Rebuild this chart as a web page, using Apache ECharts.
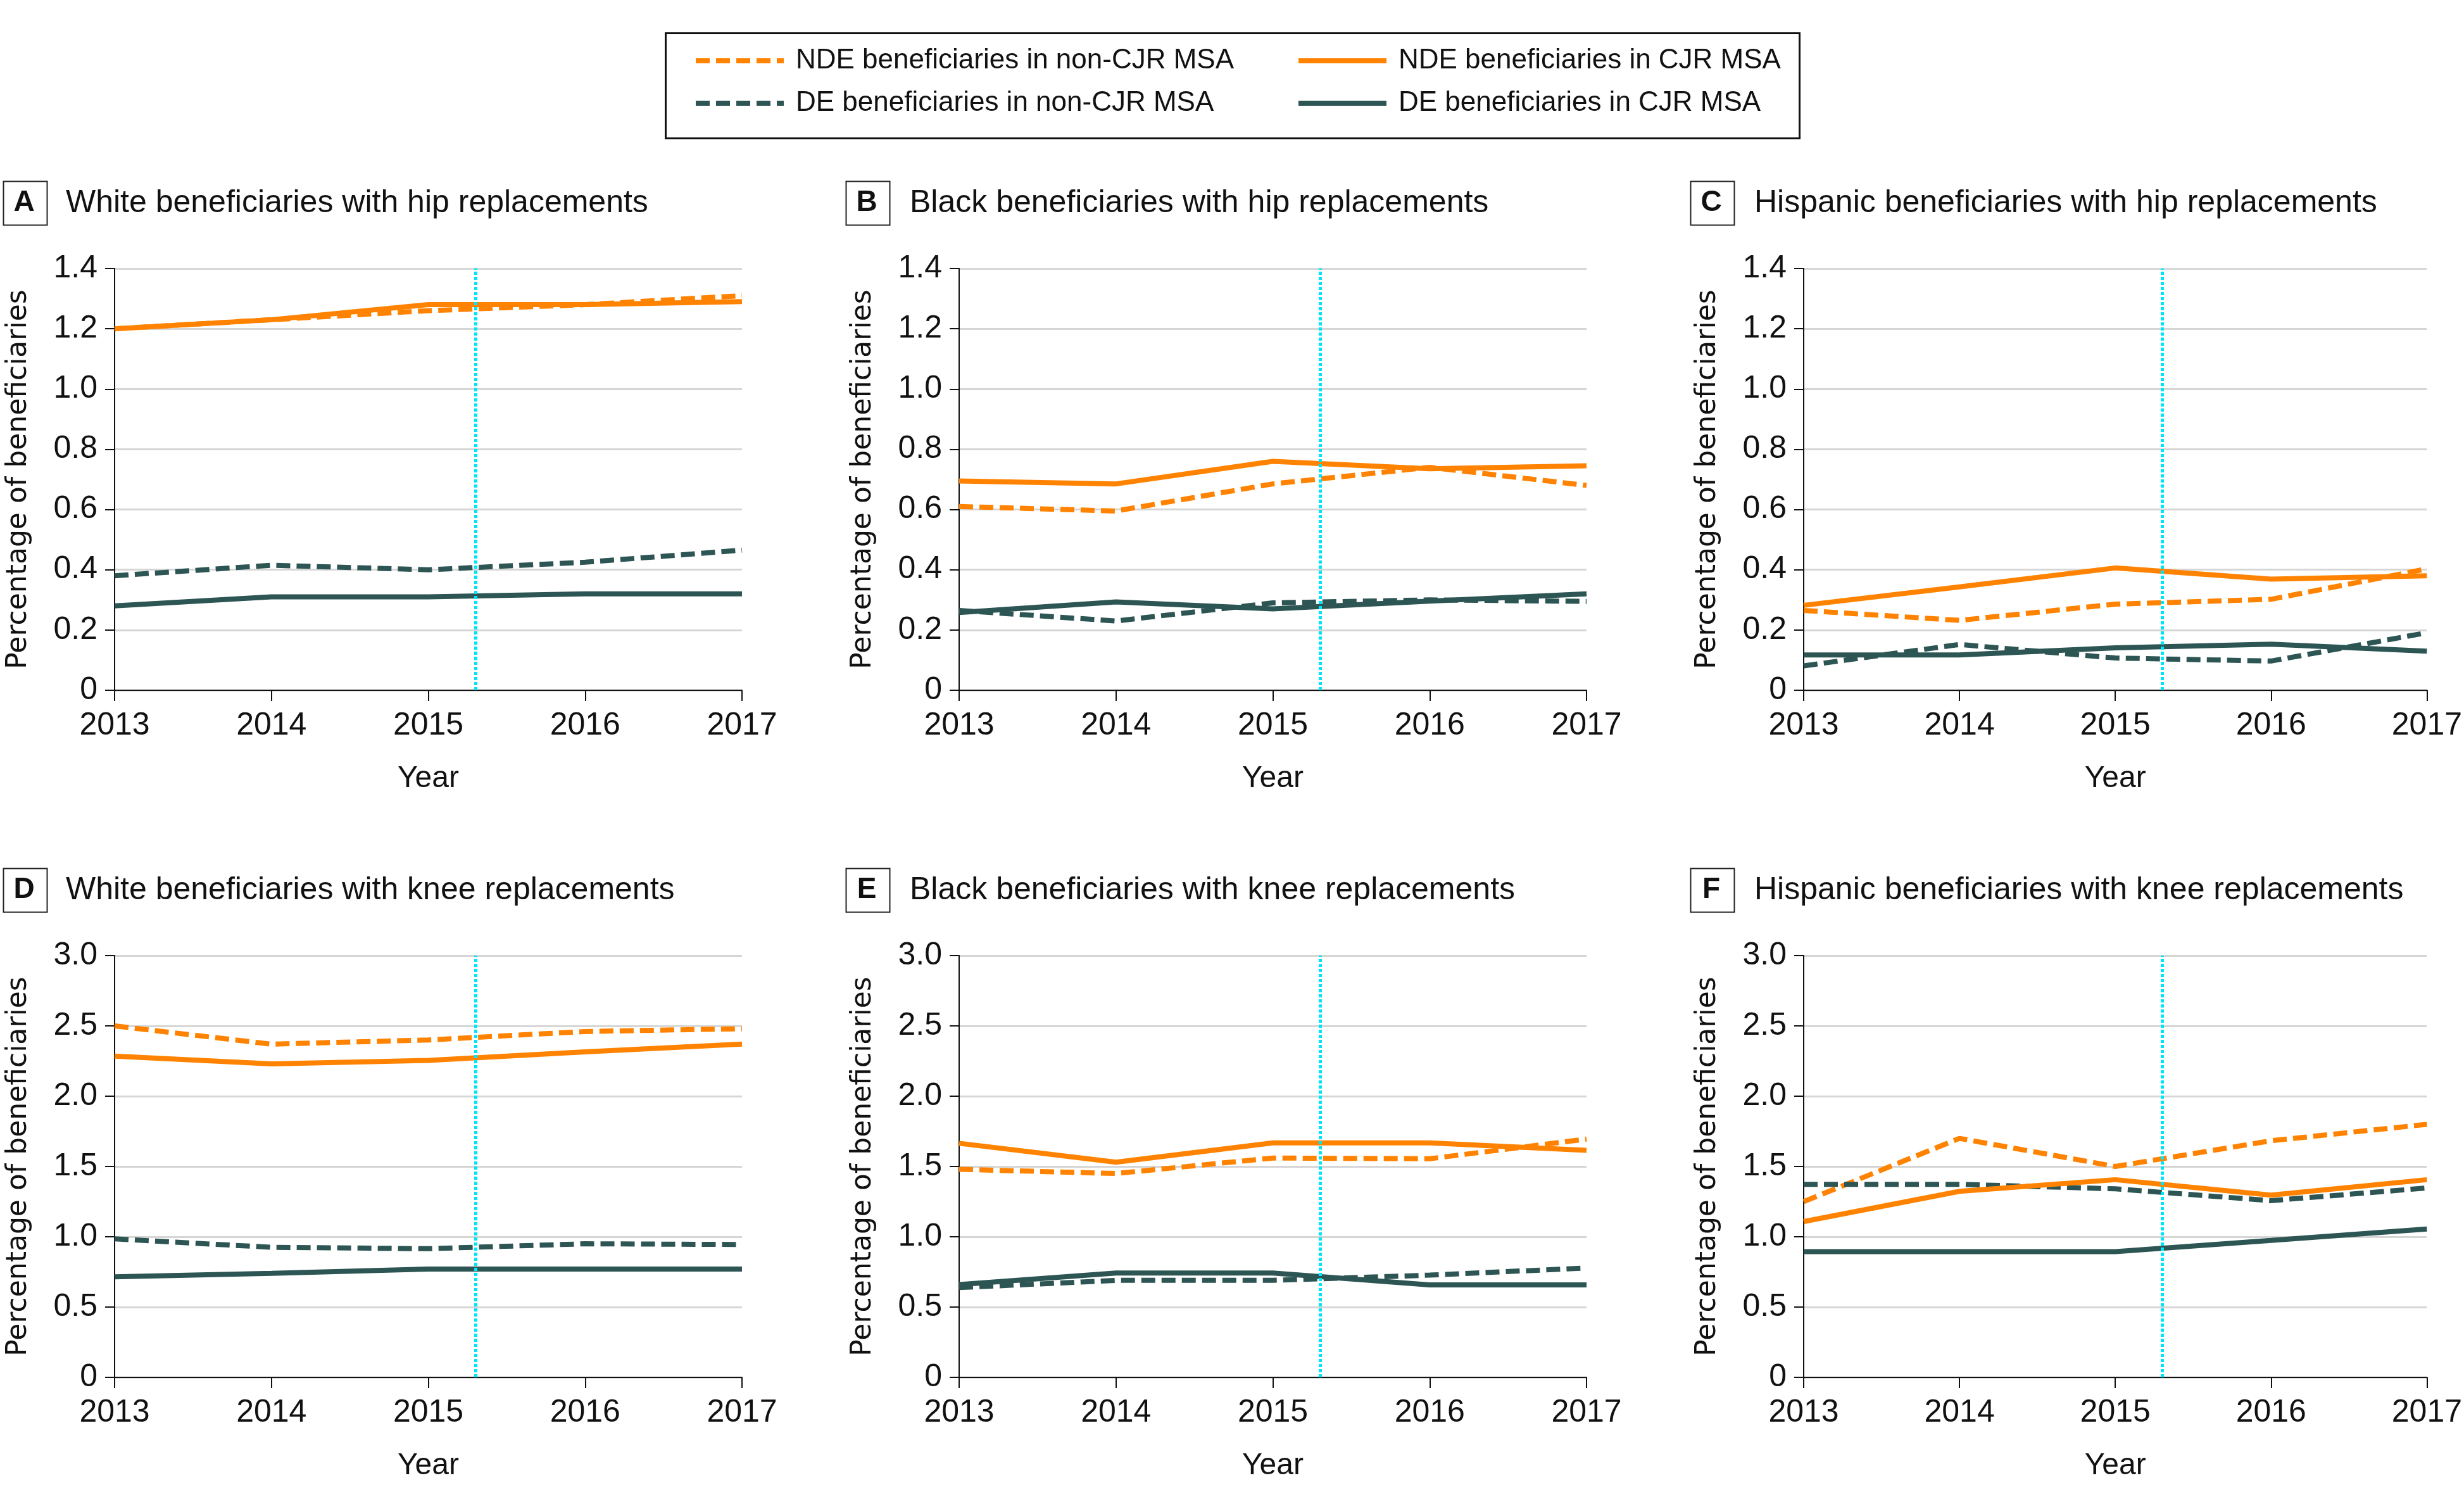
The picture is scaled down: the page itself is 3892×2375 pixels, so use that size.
<!DOCTYPE html>
<html>
<head>
<meta charset="utf-8">
<script src="https://cdn.jsdelivr.net/npm/echarts@6/dist/echarts.min.js"></script>
<style>
html,body{margin:0;padding:0;background:#fff;}
#chart{width:3892px;height:2375px;}
</style>
</head>
<body>
<div id="chart"></div>
<script>
// ---------------- DATA ----------------
const years = [2013, 2014, 2015, 2016, 2017];
const seriesNames = [
  'NDE beneficiaries in non-CJR MSA',
  'NDE beneficiaries in CJR MSA',
  'DE beneficiaries in non-CJR MSA',
  'DE beneficiaries in CJR MSA'
];
const panelLetters = ['A', 'B', 'C', 'D', 'E', 'F'];
const panelTitles = [
  'White beneficiaries with hip replacements',
  'Black beneficiaries with hip replacements',
  'Hispanic beneficiaries with hip replacements',
  'White beneficiaries with knee replacements',
  'Black beneficiaries with knee replacements',
  'Hispanic beneficiaries with knee replacements'
];
const xTickLabels = ['2013', '2014', '2015', '2016', '2017'];
const hipYTicks = ['0', '0.2', '0.4', '0.6', '0.8', '1.0', '1.2', '1.4'];
const kneeYTicks = ['0', '0.5', '1.0', '1.5', '2.0', '2.5', '3.0'];
const cjrStartYear = 2015.3;

// A: White, hip
const aNdeNon = [1.20, 1.23, 1.26, 1.28, 1.31];
const aNdeCjr = [1.20, 1.23, 1.28, 1.28, 1.29];
const aDeNon  = [0.38, 0.415, 0.40, 0.425, 0.465];
const aDeCjr  = [0.28, 0.31, 0.31, 0.32, 0.32];
// B: Black, hip
const bNdeNon = [0.61, 0.595, 0.685, 0.74, 0.68];
const bNdeCjr = [0.695, 0.685, 0.76, 0.735, 0.745];
const bDeNon  = [0.265, 0.23, 0.29, 0.30, 0.295];
const bDeCjr  = [0.258, 0.293, 0.27, 0.296, 0.32];
// C: Hispanic, hip
const cNdeNon = [0.265, 0.232, 0.286, 0.302, 0.403];
const cNdeCjr = [0.282, 0.343, 0.406, 0.369, 0.38];
const cDeNon  = [0.081, 0.152, 0.107, 0.097, 0.191];
const cDeCjr  = [0.117, 0.117, 0.141, 0.153, 0.13];
// D: White, knee
const dNdeNon = [2.50, 2.37, 2.40, 2.46, 2.48];
const dNdeCjr = [2.285, 2.23, 2.255, 2.315, 2.37];
const dDeNon  = [0.985, 0.925, 0.915, 0.95, 0.945];
const dDeCjr  = [0.715, 0.74, 0.77, 0.77, 0.77];
// E: Black, knee
const eNdeNon = [1.48, 1.45, 1.56, 1.555, 1.695];
const eNdeCjr = [1.665, 1.53, 1.668, 1.668, 1.615];
const eDeNon  = [0.638, 0.69, 0.69, 0.727, 0.778];
const eDeCjr  = [0.66, 0.742, 0.742, 0.658, 0.658];
// F: Hispanic, knee
const fNdeNon = [1.25, 1.70, 1.50, 1.683, 1.80];
const fNdeCjr = [1.108, 1.323, 1.406, 1.296, 1.406];
const fDeNon  = [1.373, 1.373, 1.341, 1.257, 1.347];
const fDeCjr  = [0.894, 0.894, 0.894, 0.974, 1.055];

const panelData = [
  [aNdeNon, aNdeCjr, aDeNon, aDeCjr],
  [bNdeNon, bNdeCjr, bDeNon, bDeCjr],
  [cNdeNon, cNdeCjr, cDeNon, cDeCjr],
  [dNdeNon, dNdeCjr, dDeNon, dDeCjr],
  [eNdeNon, eNdeCjr, eDeNon, eDeCjr],
  [fNdeNon, fNdeCjr, fDeNon, fDeCjr]
];

// ---------------- STYLE / LAYOUT ----------------
const ORANGE = '#FF8300';
const TEAL = '#2C5553';
const CYAN = '#00E5FA';
const GRID_COLOR = '#D6D6D6';
const SANS = '"Liberation Sans", Arial, sans-serif';
const LABEL_FONT = '"DejaVu Sans", sans-serif';
const seriesColors = [ORANGE, ORANGE, TEAL, TEAL];
const seriesDashed = [true, false, true, false];
const DASH = [22, 10];
const LINE_W = 8;

const colLefts = [181, 1515, 2849];
const rowTops = [424, 1509];
const gridW = 991, gridH = 666;
const boxLefts = [3, 1334, 2668];
const boxTops = [284, 1369];
const titleLefts = [104, 1437, 2771];
const titleMids = [321, 1406];

const chart = echarts.init(document.getElementById('chart'), null, {renderer: 'canvas'});

const grids = [], xAxes = [], yAxes = [], series = [], graphics = [];

for (let p = 0; p < 6; p++) {
  const col = p % 3, row = Math.floor(p / 3);
  const isHip = row === 0;
  const yTicks = isHip ? hipYTicks : kneeYTicks;
  grids.push({left: colLefts[col], top: rowTops[row], width: gridW, height: gridH});
  xAxes.push({
    type: 'value', gridIndex: p, min: 2013, max: 2017, interval: 1,
    name: 'Year', nameLocation: 'middle', nameGap: 116,
    nameTextStyle: {fontFamily: SANS, fontSize: 48, color: '#111'},
    axisLine: {show: true, lineStyle: {color: '#111', width: 2}},
    axisTick: {show: true, length: 17, lineStyle: {color: '#111', width: 2}},
    axisLabel: {fontFamily: SANS, fontSize: 50, color: '#111', margin: 31,
      formatter: v => xTickLabels[years.indexOf(Math.round(v))] || ''},
    splitLine: {show: false}
  });
  yAxes.push({
    type: 'value', gridIndex: p, min: 0,
    max: isHip ? 1.4 : 3.0, interval: isHip ? 0.2 : 0.5,
    name: 'Percentage of beneficiaries', nameLocation: 'middle', nameGap: 129,
    nameTextStyle: {fontFamily: LABEL_FONT, fontSize: 44, color: '#111'},
    axisLine: {show: true, lineStyle: {color: '#111', width: 2}},
    axisTick: {show: true, length: 15, lineStyle: {color: '#111', width: 2}},
    axisLabel: {fontFamily: SANS, fontSize: 50, color: '#111', margin: 27,
      formatter: v => yTicks[Math.round(v / (isHip ? 0.2 : 0.5))]},
    splitLine: {show: true, lineStyle: {color: GRID_COLOR, width: 3}}
  });
  const order = [0, 2, 1, 3];
  order.forEach((s, k) => {
    const ser = {
      type: 'line', name: seriesNames[s], xAxisIndex: p, yAxisIndex: p,
      data: years.map((y, i) => [y, panelData[p][s][i]]),
      symbol: 'none', smooth: false, silent: true,
      color: seriesColors[s],
      lineStyle: {color: seriesColors[s], width: LINE_W, type: seriesDashed[s] ? DASH : 'solid', cap: 'butt'},
      z: 3
    };
    if (k === order.length - 1) {
      ser.markLine = {
        silent: true, symbol: ['none', 'none'], label: {show: false},
        lineStyle: {color: CYAN, width: 5, type: [5, 3]},
        data: [{xAxis: cjrStartYear}]
      };
    }
    series.push(ser);
  });
  // panel letter box + title
  graphics.push({
    type: 'rect', left: boxLefts[col], top: boxTops[row],
    shape: {width: 69, height: 69},
    style: {fill: 'none', stroke: '#222', lineWidth: 2}
  });
  graphics.push({
    type: 'text', x: boxLefts[col] + 35, y: boxTops[row] + 36,
    style: {text: panelLetters[p], font: 'bold 46px "Liberation Sans", Arial, sans-serif',
      fill: '#111', textAlign: 'center', textVerticalAlign: 'middle'}
  });
  graphics.push({
    type: 'text', x: titleLefts[col], y: titleMids[row],
    style: {text: panelTitles[p], font: '50px "Liberation Sans", Arial, sans-serif',
      fill: '#111', textAlign: 'left', textVerticalAlign: 'middle'}
  });
}

// legend frame
graphics.push({
  type: 'rect', left: 1049, top: 50,
  shape: {width: 1791, height: 166},
  style: {fill: 'none', stroke: '#111', lineWidth: 3}
});

const legendBase = {
  orient: 'vertical', itemWidth: 139, itemHeight: 14, itemGap: 17,
  selectedMode: false,
  textStyle: {fontFamily: SANS, fontSize: 44, color: '#111', lineHeight: 50, padding: [0, 0, 0, 14]},
  lineStyle: {width: 'inherit', type: 'inherit'},
  itemStyle: {opacity: 0}
};

chart.setOption({
  animation: false,
  backgroundColor: '#fff',
  legend: [
    Object.assign({}, legendBase, {left: 1090, top: 66, data: [seriesNames[0], seriesNames[2]]}),
    Object.assign({}, legendBase, {left: 2042, top: 66, data: [seriesNames[1], seriesNames[3]]})
  ],
  grid: grids,
  xAxis: xAxes,
  yAxis: yAxes,
  series: series,
  graphic: graphics
});
</script>
</body>
</html>
